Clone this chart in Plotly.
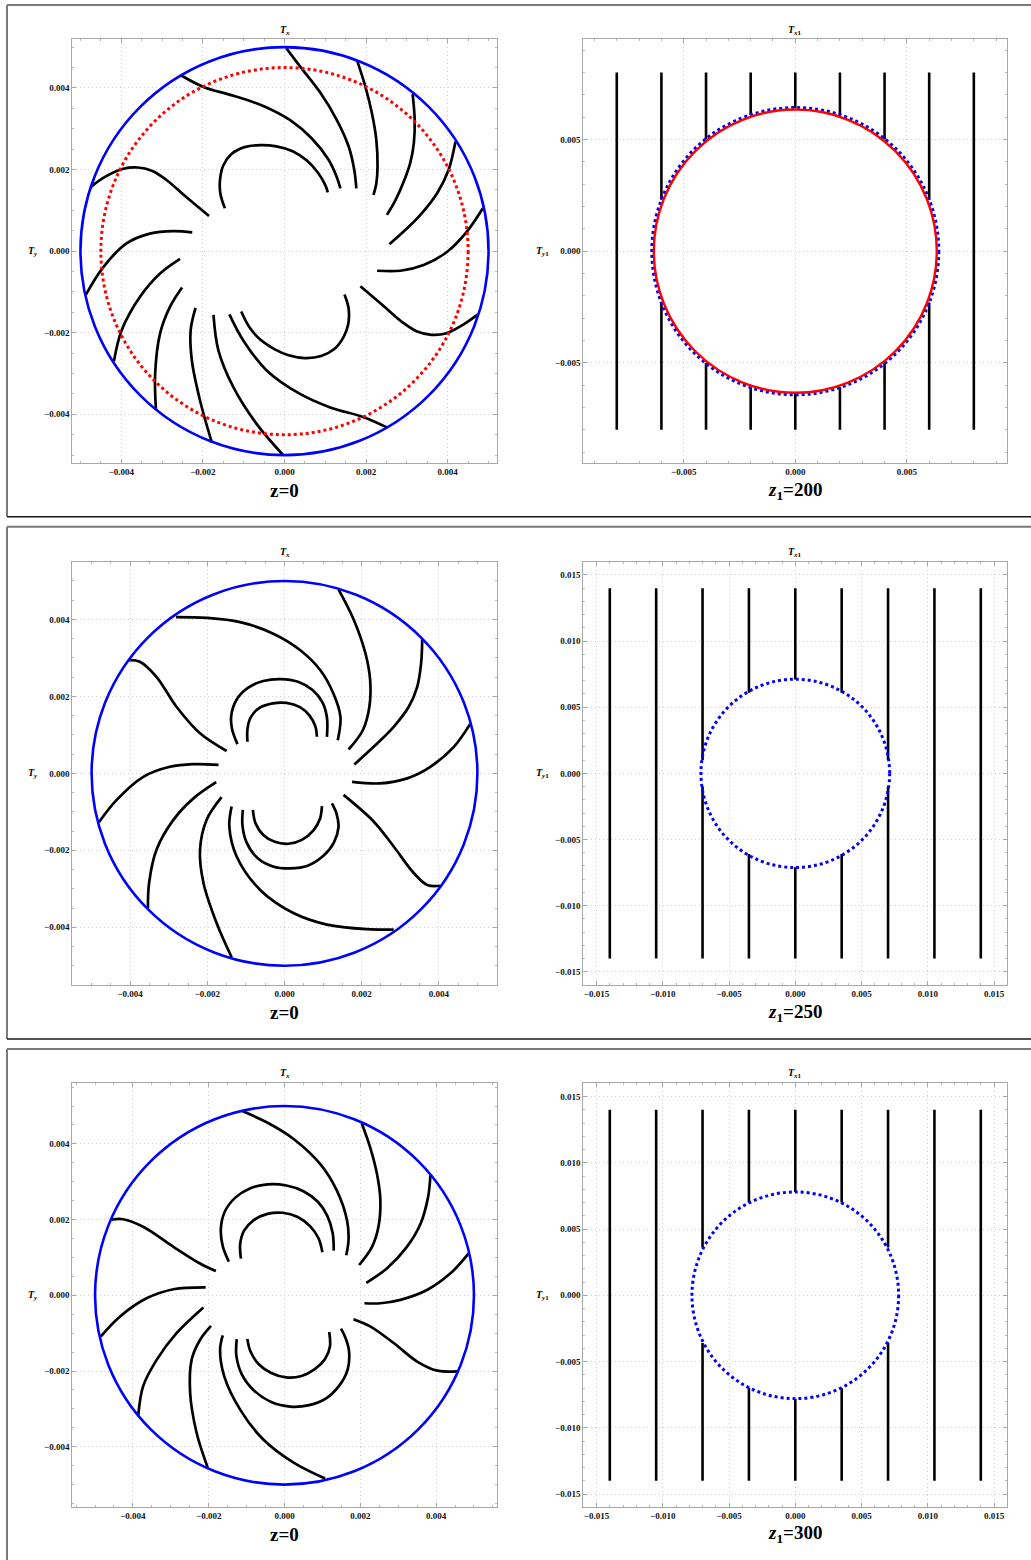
import plotly.graph_objects as go

W, H = 1031, 1560
SERIF = "Liberation Serif"
SCALE = 1e-3  # field-line coordinates below are given in units of 1e-3

# ---- field lines in the z=0 plane (x list, y list), units of 1e-3 ----
ROW1_LINES = [
    ([-2.52, -1.97, -1.25, -0.52, 0.14, 0.67, 1.08, 1.28, 1.37], [4.30, 4.02, 3.81, 3.56, 3.21, 2.76, 2.24, 1.82, 1.54]),
    ([0.04, 0.38, 0.88, 1.28, 1.57, 1.71, 1.76], [4.98, 4.53, 3.88, 3.22, 2.57, 1.99, 1.54]),
    ([1.78, 1.98, 2.14, 2.25, 2.28, 2.25, 2.18], [4.67, 4.04, 3.39, 2.73, 2.07, 1.66, 1.38]),
    ([3.14, 3.19, 3.17, 3.08, 2.92, 2.72, 2.51], [3.85, 3.22, 2.65, 2.16, 1.70, 1.25, 0.89]),
    ([4.19, 4.02, 3.74, 3.33, 2.92, 2.57], [2.69, 1.99, 1.42, 0.89, 0.48, 0.17]),
    ([4.86, 4.47, 3.98, 3.41, 2.84, 2.27], [1.05, 0.48, -0.02, -0.34, -0.48, -0.48]),
    ([4.74, 4.35, 3.95, 3.60, 3.25, 2.90, 2.40, 1.86], [-1.55, -1.82, -2.02, -2.05, -1.97, -1.75, -1.32, -0.86]),
    ([2.51, 1.94, 1.12, 0.38, -0.43, -1.01, -1.35], [-4.32, -4.07, -3.83, -3.50, -2.93, -2.19, -1.55]),
    ([-0.04, -0.68, -1.25, -1.62, -1.74], [-4.99, -4.24, -3.34, -2.43, -1.56]),
    ([-1.78, -2.07, -2.27, -2.30, -2.18], [-4.69, -3.66, -2.68, -1.94, -1.39]),
    ([-3.15, -3.17, -3.05, -2.81, -2.51], [-3.89, -3.01, -2.02, -1.37, -0.89]),
    ([-4.18, -3.99, -3.54, -3.05, -2.56], [-2.70, -1.94, -1.12, -0.55, -0.19]),
    ([-4.87, -4.44, -3.87, -3.30, -2.72, -2.26], [-1.07, -0.39, 0.19, 0.43, 0.49, 0.46]),
    ([-4.75, -4.40, -3.95, -3.60, -3.25, -2.90, -2.40, -1.85], [1.57, 1.82, 2.02, 2.05, 1.97, 1.75, 1.32, 0.86]),
    ([-1.46, -1.57, -1.58, -1.50, -1.30, -0.98, -0.60, -0.20, 0.20, 0.55, 0.82, 1.00, 1.06],
     [1.05, 1.40, 1.75, 2.10, 2.38, 2.55, 2.60, 2.57, 2.45, 2.22, 1.92, 1.62, 1.44]),
    ([1.47, 1.57, 1.56, 1.45, 1.22, 0.90, 0.50, 0.10, -0.25, -0.58, -0.85, -1.06],
     [-1.06, -1.40, -1.80, -2.10, -2.40, -2.57, -2.62, -2.55, -2.40, -2.18, -1.88, -1.48]),
]

ROW2_LINES = [
    ([-2.81, -2.02, -1.15, -0.29, 0.41, 0.93, 1.27, 1.45, 1.38], [4.06, 4.04, 3.93, 3.63, 3.20, 2.68, 2.07, 1.47, 0.86]),
    ([1.40, 1.80, 2.10, 2.22, 2.20, 2.03, 1.66], [4.78, 3.98, 3.11, 2.42, 1.73, 1.12, 0.62]),
    ([3.57, 3.54, 3.44, 3.22, 2.83, 2.31, 1.81], [3.50, 2.85, 2.25, 1.73, 1.21, 0.69, 0.23]),
    ([4.81, 4.39, 3.78, 3.18, 2.48, 1.75], [1.28, 0.69, 0.17, -0.13, -0.26, -0.22]),
    ([4.03, 3.70, 3.35, 2.83, 2.31, 1.53], [-2.92, -2.90, -2.59, -1.90, -1.25, -0.56]),
    ([-4.03, -3.75, -3.32, -2.80, -2.19, -1.50], [2.94, 2.90, 2.51, 1.73, 1.04, 0.58]),
    ([-4.81, -4.35, -3.66, -2.97, -2.36, -1.71], [-1.27, -0.69, -0.09, 0.17, 0.24, 0.22]),
    ([-3.54, -3.51, -3.32, -2.88, -2.36, -1.77], [-3.50, -2.85, -1.99, -1.21, -0.65, -0.23]),
    ([-1.37, -1.76, -2.10, -2.19, -2.02, -1.63], [-4.78, -3.89, -2.85, -1.99, -1.21, -0.62]),
    ([2.83, 2.14, 1.10, 0.23, -0.63, -1.24, -1.43, -1.37], [-4.06, -4.05, -3.93, -3.63, -3.03, -2.16, -1.38, -0.86]),
    ([-1.08, -1.09, -0.98, -0.70, -0.30, 0.15, 0.60, 1.00, 1.28, 1.40, 1.35, 1.23],
     [-0.95, -1.35, -1.80, -2.20, -2.42, -2.47, -2.40, -2.15, -1.80, -1.40, -1.05, -0.78]),
    ([-0.82, -0.75, -0.55, -0.25, 0.10, 0.45, 0.75, 0.92, 0.97],
     [-0.95, -1.30, -1.60, -1.78, -1.83, -1.73, -1.48, -1.18, -0.85]),
    ([-1.22, -1.36, -1.38, -1.25, -0.95, -0.55, -0.10, 0.35, 0.72, 0.98, 1.10, 1.10],
     [0.76, 1.15, 1.50, 1.90, 2.22, 2.40, 2.45, 2.38, 2.17, 1.85, 1.45, 0.95]),
    ([-0.96, -0.96, -0.88, -0.65, -0.30, 0.05, 0.40, 0.65, 0.80, 0.84],
     [0.82, 1.15, 1.45, 1.70, 1.82, 1.83, 1.72, 1.50, 1.22, 0.95]),
]

ROW3_LINES = [
    ([-1.10, -0.47, 0.24, 0.94, 1.38, 1.65, 1.69, 1.63], [4.86, 4.57, 4.13, 3.47, 2.77, 1.98, 1.46, 1.06]),
    ([2.04, 2.26, 2.44, 2.53, 2.48, 2.31, 1.97], [4.54, 3.91, 3.21, 2.51, 1.81, 1.28, 0.80]),
    ([3.85, 3.79, 3.59, 3.23, 2.70, 2.16], [3.17, 2.60, 1.89, 1.28, 0.71, 0.33]),
    ([4.86, 4.38, 3.76, 3.06, 2.53, 2.11], [1.11, 0.58, 0.14, -0.12, -0.21, -0.21]),
    ([4.56, 4.03, 3.50, 2.88, 2.26, 1.82], [-2.01, -1.99, -1.75, -1.26, -0.82, -0.63]),
    ([-1.47, -1.63, -1.68, -1.58, -1.30, -0.90, -0.45, 0.05, 0.50, 0.88, 1.13, 1.27, 1.30],
     [0.89, 1.30, 1.75, 2.20, 2.58, 2.83, 2.93, 2.90, 2.75, 2.47, 2.10, 1.65, 1.18]),
    ([-1.15, -1.17, -1.07, -0.82, -0.45, -0.05, 0.35, 0.68, 0.90, 1.00],
     [0.97, 1.35, 1.70, 1.98, 2.15, 2.18, 2.07, 1.82, 1.50, 1.14]),
    ([-4.56, -4.26, -3.73, -2.93, -2.23, -1.81], [2.00, 2.01, 1.81, 1.28, 0.84, 0.64]),
    ([-4.85, -4.34, -3.64, -2.93, -2.08], [-1.09, -0.56, -0.08, 0.16, 0.21]),
    ([-3.86, -3.73, -3.37, -2.85, -2.14], [-3.18, -2.40, -1.70, -1.00, -0.32]),
    ([-2.03, -2.32, -2.49, -2.45, -2.23, -1.94], [-4.54, -3.63, -2.58, -1.70, -1.18, -0.81]),
    ([1.07, 0.24, -0.56, -1.17, -1.59, -1.70, -1.63], [-4.84, -4.42, -3.81, -3.02, -2.14, -1.44, -1.06]),
    ([-1.26, -1.27, -1.12, -0.80, -0.35, 0.15, 0.65, 1.10, 1.45, 1.67, 1.70, 1.60, 1.49],
     [-1.16, -1.60, -2.10, -2.52, -2.82, -2.94, -2.90, -2.72, -2.38, -1.95, -1.45, -1.10, -0.88]),
    ([-0.98, -0.90, -0.68, -0.35, 0.05, 0.45, 0.80, 1.07, 1.20, 1.18],
     [-1.15, -1.48, -1.82, -2.05, -2.17, -2.13, -1.95, -1.68, -1.35, -0.97]),
]

# boundary radii in the z=0 plane
OUTER_RADIUS = 0.005
ROW1_INNER_RADIUS = 0.0045

# ---- ray positions in the output plane ----
ROW1_RAY_X = [-0.008, -0.006, -0.004, -0.002, 0.0, 0.002, 0.004, 0.006, 0.008]
ROW1_RAY_GAP = [0.0, 0.0023, 0.0050, 0.0061, 0.0064, 0.0061, 0.0050, 0.0023, 0.0]
ROW1_RAY_END = 0.008
ROW1_RADIUS_DOTTED = 0.00643
ROW1_RADIUS_SOLID = 0.00634

ROW2_RAY_X = [-0.014, -0.0105, -0.007, -0.0035, 0.0, 0.0035, 0.007, 0.0105, 0.014]
ROW2_RAY_GAP = [0.0, 0.0, 0.0010, 0.0061, 0.0071, 0.0061, 0.0010, 0.0, 0.0]
ROW2_RAY_END = 0.014
ROW2_RADIUS_DOTTED = 0.00712

ROW3_RAY_X = [-0.014, -0.0105, -0.007, -0.0035, 0.0, 0.0035, 0.007, 0.0105, 0.014]
ROW3_RAY_GAP = [0.0, 0.0, 0.0036, 0.0070, 0.0078, 0.0070, 0.0036, 0.0, 0.0]
ROW3_RAY_END = 0.014
ROW3_RADIUS_DOTTED = 0.0078

PLANE_LABELS = ["z=0", "z=0", "z=0"]
OUT_LABELS = ["<i>z</i><sub>1</sub>=200", "<i>z</i><sub>1</sub>=250", "<i>z</i><sub>1</sub>=300"]

# ---- panel geometry (pixels) ----
LEFT_X = (72.3, 496.7)
RIGHT_X = (583.3, 1007.3)
ROW_Y = [(39.0, 463.3), (561.7, 985.0), (1083.3, 1507.3)]
LEFT_RANGE = [0.0052, 0.0055, 0.0056]
RIGHT_RANGE = [0.0095, 0.016, 0.016]
RIGHT_DTICK = [0.005, 0.005, 0.005]

fig = go.Figure()


def xd(p0, p1):
    return [p0 / W, p1 / W]


def yd(p0, p1):
    return [1 - p1 / H, 1 - p0 / H]


def axis_style(rng, dtick, minor):
    return dict(
        range=[-rng, rng], dtick=dtick, tick0=0, tickformat=".3f",
        showline=True, linecolor="#a8a8a8", linewidth=1, mirror="allticks",
        ticks="inside", ticklen=4, tickcolor="#a8a8a8", tickwidth=1,
        minor=dict(ticks="inside", ticklen=2, dtick=minor, tickcolor="#b8b8b8", showgrid=False),
        showgrid=True, gridcolor="#cfcfcf", griddash="1px,3px", gridwidth=1,
        zeroline=False, fixedrange=True,
        tickfont=dict(family=SERIF, size=9, color="#111", weight="bold"),
    )


for r in range(3):
    i_left = 2 * r + 1
    i_right = 2 * r + 2
    y0, y1 = ROW_Y[r]
    for idx, (xs, rng, dt, mn) in (
        (i_left, (LEFT_X, LEFT_RANGE[r], 0.002, 0.0005)),
        (i_right, (RIGHT_X, RIGHT_RANGE[r], RIGHT_DTICK[r], 0.001)),
    ):
        xa = axis_style(rng, dt, mn)
        xa.update(domain=xd(*xs), anchor=f"y{idx}")
        ya = axis_style(rng, dt, mn)
        ya.update(domain=yd(y0, y1), anchor=f"x{idx}")
        fig.layout[f"xaxis{idx}"] = xa
        fig.layout[f"yaxis{idx}"] = ya

# field lines
for r, lines in enumerate([ROW1_LINES, ROW2_LINES, ROW3_LINES]):
    idx = 2 * r + 1
    for xs, ys in lines:
        fig.add_trace(go.Scatter(
            x=[v * SCALE for v in xs], y=[v * SCALE for v in ys],
            mode="lines", line=dict(color="black", width=2.7, shape="spline", smoothing=1.0),
            xaxis=f"x{idx}", yaxis=f"y{idx}", hoverinfo="skip",
        ))

# rays in the output plane
for r, (rx, gaps, end) in enumerate([
    (ROW1_RAY_X, ROW1_RAY_GAP, ROW1_RAY_END),
    (ROW2_RAY_X, ROW2_RAY_GAP, ROW2_RAY_END),
    (ROW3_RAY_X, ROW3_RAY_GAP, ROW3_RAY_END),
]):
    idx = 2 * r + 2
    px, py = [], []
    for x, g in zip(rx, gaps):
        if g > 0:
            px += [x, x, None, x, x, None]
            py += [-end, -g, None, g, end, None]
        else:
            px += [x, x, None]
            py += [-end, end, None]
    fig.add_trace(go.Scatter(
        x=px, y=py, mode="lines", line=dict(color="black", width=2.6),
        xaxis=f"x{idx}", yaxis=f"y{idx}", hoverinfo="skip",
    ))

shapes = []


def circle(idx, rad, color, dash, width=2.6):
    shapes.append(dict(
        type="circle", xref=f"x{idx}", yref=f"y{idx}",
        x0=-rad, x1=rad, y0=-rad, y1=rad,
        line=dict(color=color, width=width, dash=dash), layer="above",
    ))


circle(1, ROW1_INNER_RADIUS, "#ff0000", "dot", 3)
for idx in (1, 3, 5):
    circle(idx, OUTER_RADIUS, "#0000ff", "solid", 2.6)
circle(2, ROW1_RADIUS_DOTTED, "#0000ff", "dot", 3)
circle(2, ROW1_RADIUS_SOLID, "#ff0000", "solid", 2.4)
circle(4, ROW2_RADIUS_DOTTED, "#0000ff", "dot", 3)
circle(6, ROW3_RADIUS_DOTTED, "#0000ff", "dot", 3)

# row frames: grey top and left edges, dark bottom edge
ROW_BOX = [(5, 516.7), (526.7, 1039), (1049, None)]
for top, bottom in ROW_BOX:
    yb = bottom if bottom is not None else H + 5
    shapes.append(dict(type="line", xref="paper", yref="paper",
                       x0=7 / W, x1=1.0 + 2 / W, y0=1 - top / H, y1=1 - top / H,
                       line=dict(color="#7a7a7a", width=2)))
    shapes.append(dict(type="line", xref="paper", yref="paper",
                       x0=7 / W, x1=7 / W, y0=1 - top / H, y1=1 - yb / H,
                       line=dict(color="#7a7a7a", width=2)))
    if bottom is not None:
        shapes.append(dict(type="line", xref="paper", yref="paper",
                           x0=7 / W, x1=1.0 + 2 / W, y0=1 - bottom / H, y1=1 - bottom / H,
                           line=dict(color="#1a1a1a", width=1.5)))

annotations = []


def label(text, px, py, size, weight="bold", anchor="center"):
    annotations.append(dict(
        text=text, x=px / W, y=1 - py / H, xref="paper", yref="paper",
        xanchor=anchor, yanchor="middle", showarrow=False,
        font=dict(family=SERIF, size=size, color="black", weight=weight),
    ))


TOP_LABEL_Y = [30, 552, 1073]
BOTTOM_LABEL_Y = [490.5, 1012.5, 1534]
for r in range(3):
    yc = (ROW_Y[r][0] + ROW_Y[r][1]) / 2
    label("<i>T</i><sub><i>x</i></sub>", 284.5, TOP_LABEL_Y[r], 10)
    label("<i>T</i><sub><i>x</i>1</sub>", 795.3, TOP_LABEL_Y[r], 10)
    label("<i>T</i><sub><i>y</i></sub>", 33, yc, 10)
    label("<i>T</i><sub><i>y</i>1</sub>", 542, yc, 10)
    label(PLANE_LABELS[r], 284.5, BOTTOM_LABEL_Y[r], 19)
    label(OUT_LABELS[r], 795.3, BOTTOM_LABEL_Y[r], 19)

fig.update_layout(
    width=W, height=H, margin=dict(l=0, r=0, t=0, b=0),
    paper_bgcolor="white", plot_bgcolor="white",
    showlegend=False, shapes=shapes, annotations=annotations,
)

fig.write_html("out.html")
